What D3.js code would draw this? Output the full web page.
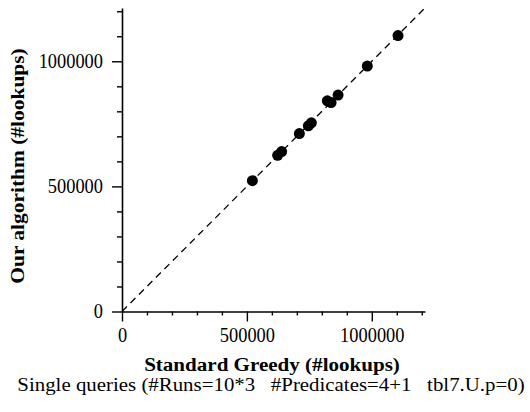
<!DOCTYPE html>
<html>
<head>
<meta charset="utf-8">
<script src="https://cdn.jsdelivr.net/npm/d3@7"></script>
<style>
  html, body { margin: 0; padding: 0; background: #fff; }
  svg { display: block; }
  text { font-family: "Liberation Serif", "Times New Roman", serif; fill: #000; }
</style>
</head>
<body>
<svg id="chart" width="530" height="412"></svg>
<script>
// ---- data ----
const greedyLookups = [522000, 623000, 639000, 710000, 746000, 758000, 822000, 837000, 865000, 982000, 1105000];
const ourLookups    = [523000, 624000, 639000, 711000, 742000, 754000, 842000, 835000, 865000, 981000, 1103000];
const majorTicks = [0, 500000, 1000000];
const minorTicks = [100000, 200000, 300000, 400000, 600000, 700000, 800000, 900000, 1100000, 1200000];
const xTitle = "Standard Greedy (#lookups)";
const yTitle = "Our algorithm (#lookups)";
const caption = "Single queries (#Runs=10*3   #Predicates=4+1   tbl7.U.p=0)";
const axisMax = 1213000;

const svg = d3.select("#chart");
const mLeft = 122, mTop = 8, mRight = 425, mBottom = 311.5;

const x = d3.scaleLinear().domain([0, axisMax]).range([mLeft, mRight]);
const y = d3.scaleLinear().domain([0, axisMax]).range([mBottom, mTop]);

// diagonal dashed reference line
svg.append("line")
  .attr("x1", x(0)).attr("y1", y(0))
  .attr("x2", x(axisMax)).attr("y2", y(axisMax))
  .attr("stroke", "#000").attr("stroke-width", 1.3)
  .attr("stroke-dasharray", "7,5");

// x axis
const gx = svg.append("g").attr("transform", `translate(0,${mBottom})`);
gx.call(d3.axisBottom(x).tickValues(majorTicks).tickSize(10).tickSizeOuter(0).tickPadding(6)
  .tickFormat(d3.format("d")));
gx.append("g").call(d3.axisBottom(x).tickValues(minorTicks).tickSize(4).tickFormat(""))
  .select(".domain").remove();

// y axis
const gy = svg.append("g").attr("transform", `translate(${mLeft},0)`);
gy.call(d3.axisLeft(y).tickValues(majorTicks).tickSize(10).tickSizeOuter(0).tickPadding(9)
  .tickFormat(d3.format("d")));
gy.append("g").call(d3.axisLeft(y).tickValues(minorTicks).tickSize(5).tickFormat(""))
  .select(".domain").remove();

svg.selectAll(".domain").attr("stroke", "#000").attr("stroke-width", 1.6);
svg.selectAll(".tick line").attr("stroke", "#000").attr("stroke-width", 1.4);
gx.selectAll(".tick text")
  .attr("font-size", 20).attr("font-family", "Liberation Serif").attr("fill", "#000")
  .attr("transform", "scale(0.92,1)");
gy.selectAll(".tick text")
  .attr("font-size", 20).attr("font-family", "Liberation Serif").attr("fill", "#000")
  .attr("x", 0)
  .attr("transform", "translate(-19,0) scale(0.92,1)");

// points
svg.append("g").selectAll("circle")
  .data(greedyLookups.map((g, i) => [g, ourLookups[i]]))
  .join("circle")
  .attr("cx", d => x(d[0]))
  .attr("cy", d => y(d[1]))
  .attr("r", 5.5)
  .attr("fill", "#000");

// axis titles
svg.append("text")
  .attr("transform", `translate(272,371) scale(1.08,1)`)
  .attr("text-anchor", "middle")
  .attr("font-size", 19.5).attr("font-weight", "bold")
  .text(xTitle);

svg.append("text")
  .attr("transform", `translate(24,166) rotate(-90) scale(1.1,1)`)
  .attr("text-anchor", "middle")
  .attr("font-size", 19.5).attr("font-weight", "bold")
  .text(yTitle);

// caption
svg.append("text")
  .attr("transform", "translate(271,391) scale(1.16,1)")
  .attr("text-anchor", "middle")
  .attr("font-size", 18)
  .attr("xml:space", "preserve")
  .style("white-space", "pre")
  .text(caption);
</script>
</body>
</html>
